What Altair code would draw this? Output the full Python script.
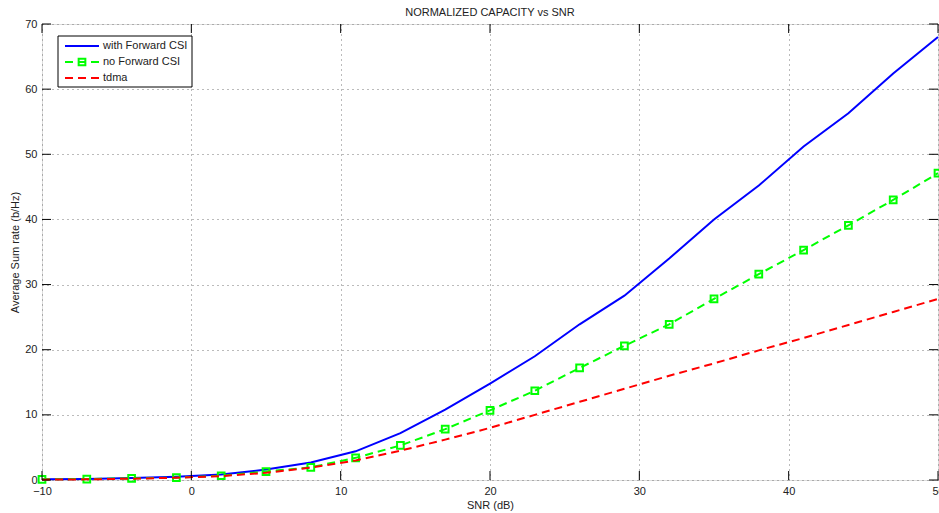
import altair as alt
import pandas as pd

# ---- data ----
snr = [-10, -7, -4, -1, 2, 5, 8, 11, 14, 17, 20, 23, 26, 29, 32, 35, 38, 41, 44, 47, 50]
with_csi = [0.1, 0.15, 0.3, 0.5, 0.85, 1.6, 2.7, 4.4, 7.2, 10.8, 14.8, 19.0, 23.9, 28.3,
            34.0, 40.0, 45.2, 51.2, 56.3, 62.4, 68.0]
no_csi = [0.1, 0.15, 0.25, 0.35, 0.65, 1.3, 1.95, 3.4, 5.3, 7.8, 10.7, 13.7, 17.2, 20.6,
          23.9, 27.8, 31.6, 35.3, 39.1, 43.0, 47.1]
tdma = [0.05, 0.1, 0.2, 0.35, 0.6, 1.1, 1.9, 3.0, 4.5, 6.2, 8.0, 10.0, 12.0, 14.0,
        16.0, 17.9, 19.9, 21.8, 23.8, 25.8, 27.8]
series_names = ["with Forward CSI", "no Forward CSI", "tdma"]
series_colors = ["#0000FF", "#00FF00", "#FF0000"]
x_ticks = [-10, 0, 10, 20, 30, 40, 50]
y_ticks = [0, 10, 20, 30, 40, 50, 60, 70]

W, H = 896, 456
FONT = "Liberation Sans"
TXT = "#222222"

xs = alt.Scale(domain=[-10, 50], nice=False, zero=False)
ys = alt.Scale(domain=[0, 70], nice=False, zero=False)

xaxis = alt.Axis(values=x_ticks, title="SNR (dB)", grid=True, gridDash=[1, 4], gridColor="#777",
                 gridOpacity=1, ticks=False, domain=False, labelPadding=5, labelFontSize=11,
                 titleFontSize=11, titleFontWeight="normal", titlePadding=3, labelColor=TXT,
                 titleColor=TXT, labelFont=FONT, titleFont=FONT, labelFlush=False)
yaxis = alt.Axis(values=y_ticks, title="Average Sum rate (b/Hz)", grid=True, gridDash=[1, 4],
                 gridColor="#777", gridOpacity=1, ticks=False, domain=False, labelPadding=5,
                 labelFontSize=11, titleFontSize=11, titleFontWeight="normal", titlePadding=4,
                 labelColor=TXT, titleColor=TXT, labelFont=FONT, titleFont=FONT)

df_blue = pd.DataFrame({"x": snr, "y": with_csi})
df_green = pd.DataFrame({"x": snr, "y": no_csi})
df_red = pd.DataFrame({"x": snr, "y": tdma})

base_grid = alt.Chart(df_blue).mark_line(opacity=0).encode(
    x=alt.X("x:Q", scale=xs, axis=xaxis), y=alt.Y("y:Q", scale=ys, axis=yaxis))

blue = alt.Chart(df_blue).mark_line(color=series_colors[0], strokeWidth=2).encode(
    x=alt.X("x:Q", scale=xs), y=alt.Y("y:Q", scale=ys))
green = alt.Chart(df_green).mark_line(color=series_colors[1], strokeWidth=2,
                                      strokeDash=[8, 5]).encode(
    x=alt.X("x:Q", scale=xs), y=alt.Y("y:Q", scale=ys))
green_pts = alt.Chart(df_green).mark_point(shape="square", filled=False, color=series_colors[1],
                                           strokeWidth=2, size=45, opacity=1).encode(
    x=alt.X("x:Q", scale=xs), y=alt.Y("y:Q", scale=ys))
red = alt.Chart(df_red).mark_line(color=series_colors[2], strokeWidth=2,
                                  strokeDash=[8, 5]).encode(
    x=alt.X("x:Q", scale=xs), y=alt.Y("y:Q", scale=ys))

# inward ticks on all four sides (MATLAB style)
dfx = pd.DataFrame({"t": x_ticks})
dfy = pd.DataFrame({"t": y_ticks})
TL = 9
tick_b = alt.Chart(dfx).mark_rule(color="black", strokeWidth=1).encode(
    x=alt.X("t:Q", scale=xs), y=alt.value(H), y2=alt.value(H - TL))
tick_t = alt.Chart(dfx).mark_rule(color="black", strokeWidth=1).encode(
    x=alt.X("t:Q", scale=xs), y=alt.value(0), y2=alt.value(TL))
tick_l = alt.Chart(dfy).mark_rule(color="black", strokeWidth=1).encode(
    y=alt.Y("t:Q", scale=ys), x=alt.value(0), x2=alt.value(TL))
tick_r = alt.Chart(dfy).mark_rule(color="black", strokeWidth=1).encode(
    y=alt.Y("t:Q", scale=ys), x=alt.value(W), x2=alt.value(W - TL))

# manual legend box
one = pd.DataFrame({"n": [0]})
legend_layers = [
    alt.Chart(one).mark_rect(fill="white", stroke="black", strokeWidth=1).encode(
        x=alt.value(16), x2=alt.value(150), y=alt.value(12), y2=alt.value(63))
]
row_y = [22, 38, 54]
dashes = [None, [8, 5], [8, 5]]
for name, col, ry, dash in zip(series_names, series_colors, row_y, dashes):
    kw = dict(color=col, strokeWidth=2)
    if dash:
        kw["strokeDash"] = dash
    legend_layers.append(alt.Chart(pd.DataFrame({"n": [name]})).mark_rule(**kw).encode(
        x=alt.value(23), x2=alt.value(57), y=alt.value(ry)))
    legend_layers.append(alt.Chart(pd.DataFrame({"n": [name]})).mark_text(
        align="left", baseline="middle", fontSize=11, font=FONT, color=TXT).encode(
        x=alt.value(61), y=alt.value(ry), text="n:N"))
legend_layers.append(alt.Chart(one).mark_point(shape="square", filled=False, color=series_colors[1],
                                                strokeWidth=2, size=45, opacity=1).encode(
    x=alt.value(40), y=alt.value(row_y[1])))

chart = alt.layer(
    base_grid, blue, green, green_pts, red, tick_b, tick_t, tick_l, tick_r, *legend_layers
).properties(
    width=W, height=H,
    title=alt.TitleParams("NORMALIZED CAPACITY vs SNR", fontSize=11, fontWeight="normal",
                          font=FONT, color=TXT, offset=0, anchor="middle"),
    autosize=alt.AutoSizeParams(type="none"),
    padding={"left": 42, "top": 24, "right": 1, "bottom": 33},
).configure_view(stroke="black", strokeWidth=1).configure(background="white")

chart.save("out.html", embed_options={"renderer": "svg", "actions": False})
